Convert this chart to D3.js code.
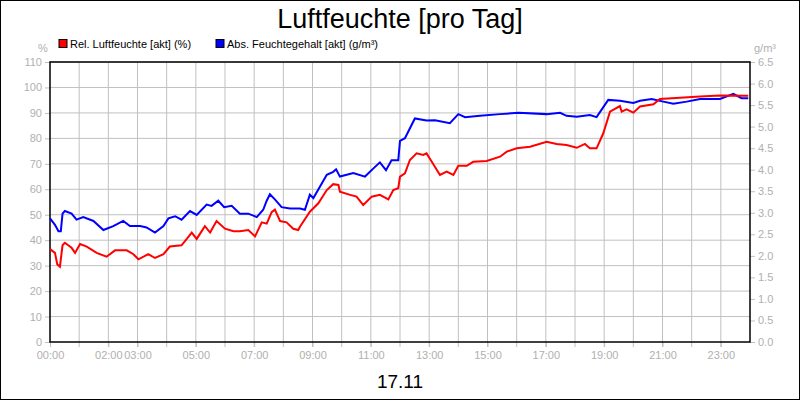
<!DOCTYPE html><html><head><meta charset="utf-8"><script src="https://cdn.jsdelivr.net/npm/d3@7"></script>
<style>body{margin:0;background:#fff}svg{font-family:"Liberation Sans",Arial,sans-serif}</style></head><body><svg id="c" width="800" height="400"></svg>
<script>
const relHours=[0,.17,.25,.34,.43,.51,.74,.86,1.03,1.26,1.6,1.94,2.23,2.63,2.86,3.03,3.37,3.6,3.89,4.11,4.51,4.69,4.86,5.03,5.31,5.49,5.71,6.0,6.29,6.51,6.8,7.03,7.26,7.43,7.6,7.71,7.89,8.11,8.34,8.51,8.57,8.91,9.2,9.49,9.71,9.89,9.94,10.29,10.51,10.74,11.03,11.31,11.6,11.77,11.94,12.0,12.17,12.34,12.57,12.8,12.91,13.09,13.37,13.6,13.83,14.0,14.29,14.51,14.97,15.43,15.66,16.0,16.46,17.03,17.37,17.71,18.06,18.34,18.51,18.74,18.97,19.2,19.54,19.6,19.77,20.0,20.23,20.69,20.91,22.29,22.97,23.94];
const relValues=[36.5,35,30.5,29.6,38,39,37,35,38.5,37.5,35,33.5,36,36,34.5,32.5,34.5,33,34.5,37.5,38,40.5,43,40.5,45.5,43,47.5,44.5,43.5,43.5,44,41.5,47,46.5,51,52,47.5,47,44.5,44,45.3,51.2,54.5,59.7,62,61.7,59,57.8,57.1,53.8,57.1,57.8,56,59.7,60.4,65,66.3,71.5,74.1,73.5,74.1,70.8,65.6,66.9,65.6,69.2,69.2,70.8,71.1,72.8,74.8,76.1,76.7,78.7,77.8,77.4,76.3,77.8,76.1,76.1,82,90.5,92.7,90.5,91.4,90.1,92.5,93.4,95.5,96.4,96.8,96.7];
const absHours=[0,.17,.29,.37,.43,.51,.74,.91,1.14,1.49,1.83,2.17,2.51,2.74,3.09,3.31,3.6,3.89,4.06,4.29,4.51,4.8,5.03,5.37,5.54,5.77,5.97,6.23,6.51,6.8,7.09,7.31,7.43,7.54,7.71,7.94,8.23,8.57,8.74,8.91,9.03,9.49,9.71,9.81,9.94,10.4,10.8,11.09,11.31,11.52,11.71,11.94,12.0,12.17,12.51,12.91,13.2,13.71,14.0,14.23,14.74,15.43,16.06,17.03,17.49,17.71,18.06,18.51,18.74,19.14,19.54,20.0,20.23,20.63,21.03,21.37,21.83,22.29,22.97,23.43,23.71,23.94];
const absValues=[2.87,2.72,2.57,2.57,2.98,3.04,2.98,2.84,2.90,2.81,2.60,2.69,2.81,2.69,2.69,2.66,2.54,2.69,2.87,2.92,2.84,3.04,2.95,3.19,3.16,3.28,3.13,3.16,2.98,2.98,2.90,3.07,3.28,3.43,3.31,3.13,3.10,3.10,3.07,3.42,3.34,3.88,3.95,4.01,3.84,3.92,3.84,4.03,4.17,3.99,4.22,4.22,4.67,4.73,5.19,5.14,5.15,5.08,5.29,5.22,5.25,5.29,5.32,5.29,5.32,5.25,5.23,5.27,5.22,5.62,5.60,5.55,5.60,5.64,5.58,5.53,5.58,5.64,5.64,5.76,5.66,5.66];
const leftTicks=d3.range(0,111,10);
const rightTicks=d3.range(0,6.51,0.5);
const xLabelHours=[0,2,3,5,7,9,11,13,15,17,19,21,23];
const title="Luftfeuchte [pro Tag]", dateLabel="17.11";
const legend=[{name:"Rel. Luftfeuchte [akt] (%)",color:"#ff0000"},{name:"Abs. Feuchtegehalt [akt] (g/m³)",color:"#0000ff"}];

const svg=d3.select("#c");
const L=50,R=750,T=62,B=342;
const x=d3.scaleLinear().domain([0,24]).range([L,R]);
const yL=d3.scaleLinear().domain([0,110]).range([B,T]);
const yR=d3.scaleLinear().domain([0,6.5]).range([B,T]);
svg.append("rect").attr("x",0.5).attr("y",0.5).attr("width",799).attr("height",399).attr("fill","#fff").attr("stroke","#000");
const grid="#c0c0c0", lab="#b0b0b0";
svg.append("g").selectAll("line").data(d3.range(1,24)).join("line").attr("x1",d=>x(d)).attr("x2",d=>x(d)).attr("y1",T).attr("y2",B+5).attr("stroke",grid);
svg.append("g").selectAll("line").data(leftTicks.slice(1)).join("line").attr("x1",L).attr("x2",R).attr("y1",d=>yL(d)).attr("y2",d=>yL(d)).attr("stroke",grid);
// left axis
const gl=svg.append("g").attr("transform",`translate(${L},0)`).call(d3.axisLeft(yL).tickValues(leftTicks).tickSize(5).tickPadding(3));
const gr=svg.append("g").attr("transform",`translate(${R},0)`).call(d3.axisRight(yR).tickValues(rightTicks).tickFormat(d3.format(".1f")).tickSize(5).tickPadding(3));
const gb=svg.append("g").attr("transform",`translate(0,${B})`).call(d3.axisBottom(x).tickValues(xLabelHours).tickFormat(d=>String(d).padStart(2,"0")+":00").tickSize(5).tickPadding(4));
[gl,gr,gb].forEach(g=>{g.select(".domain").remove();g.selectAll("line").attr("stroke",grid);g.selectAll("text").attr("fill",lab).attr("font-size",11).attr("font-family","Liberation Sans,Arial");});
svg.append("rect").attr("x",L).attr("y",T).attr("width",R-L).attr("height",B-T).attr("fill","none").attr("stroke","#000").attr("stroke-width",1.5);
const line=(ys)=>d3.line().x(d=>x(d[0])).y(d=>ys(d[1]));
svg.append("path").datum(d3.zip(absHours,absValues)).attr("d",line(yR)).attr("fill","none").attr("stroke","#0000ff").attr("stroke-width",2);
svg.append("path").datum(d3.zip(relHours,relValues)).attr("d",line(yL)).attr("fill","none").attr("stroke","#ff0000").attr("stroke-width",2);
svg.append("text").attr("x",400).attr("y",28).attr("text-anchor","middle").attr("font-size",27).text(title);
svg.append("text").attr("x",400).attr("y",388).attr("text-anchor","middle").attr("font-size",19).text(dateLabel);
svg.append("text").attr("x",43).attr("y",52).attr("text-anchor","middle").attr("font-size",11).attr("fill",lab).text("%");
svg.append("text").attr("x",765).attr("y",52).attr("text-anchor","middle").attr("font-size",11).attr("fill",lab).text("g/m³");
const lx=[59,216];
legend.forEach((d,i)=>{
  svg.append("rect").attr("x",lx[i]).attr("y",39.5).attr("width",8).attr("height",8).attr("fill",d.color).attr("stroke","#000");
  svg.append("text").attr("x",lx[i]+11).attr("y",48).attr("font-size",11).text(d.name);
});
</script></body></html>
